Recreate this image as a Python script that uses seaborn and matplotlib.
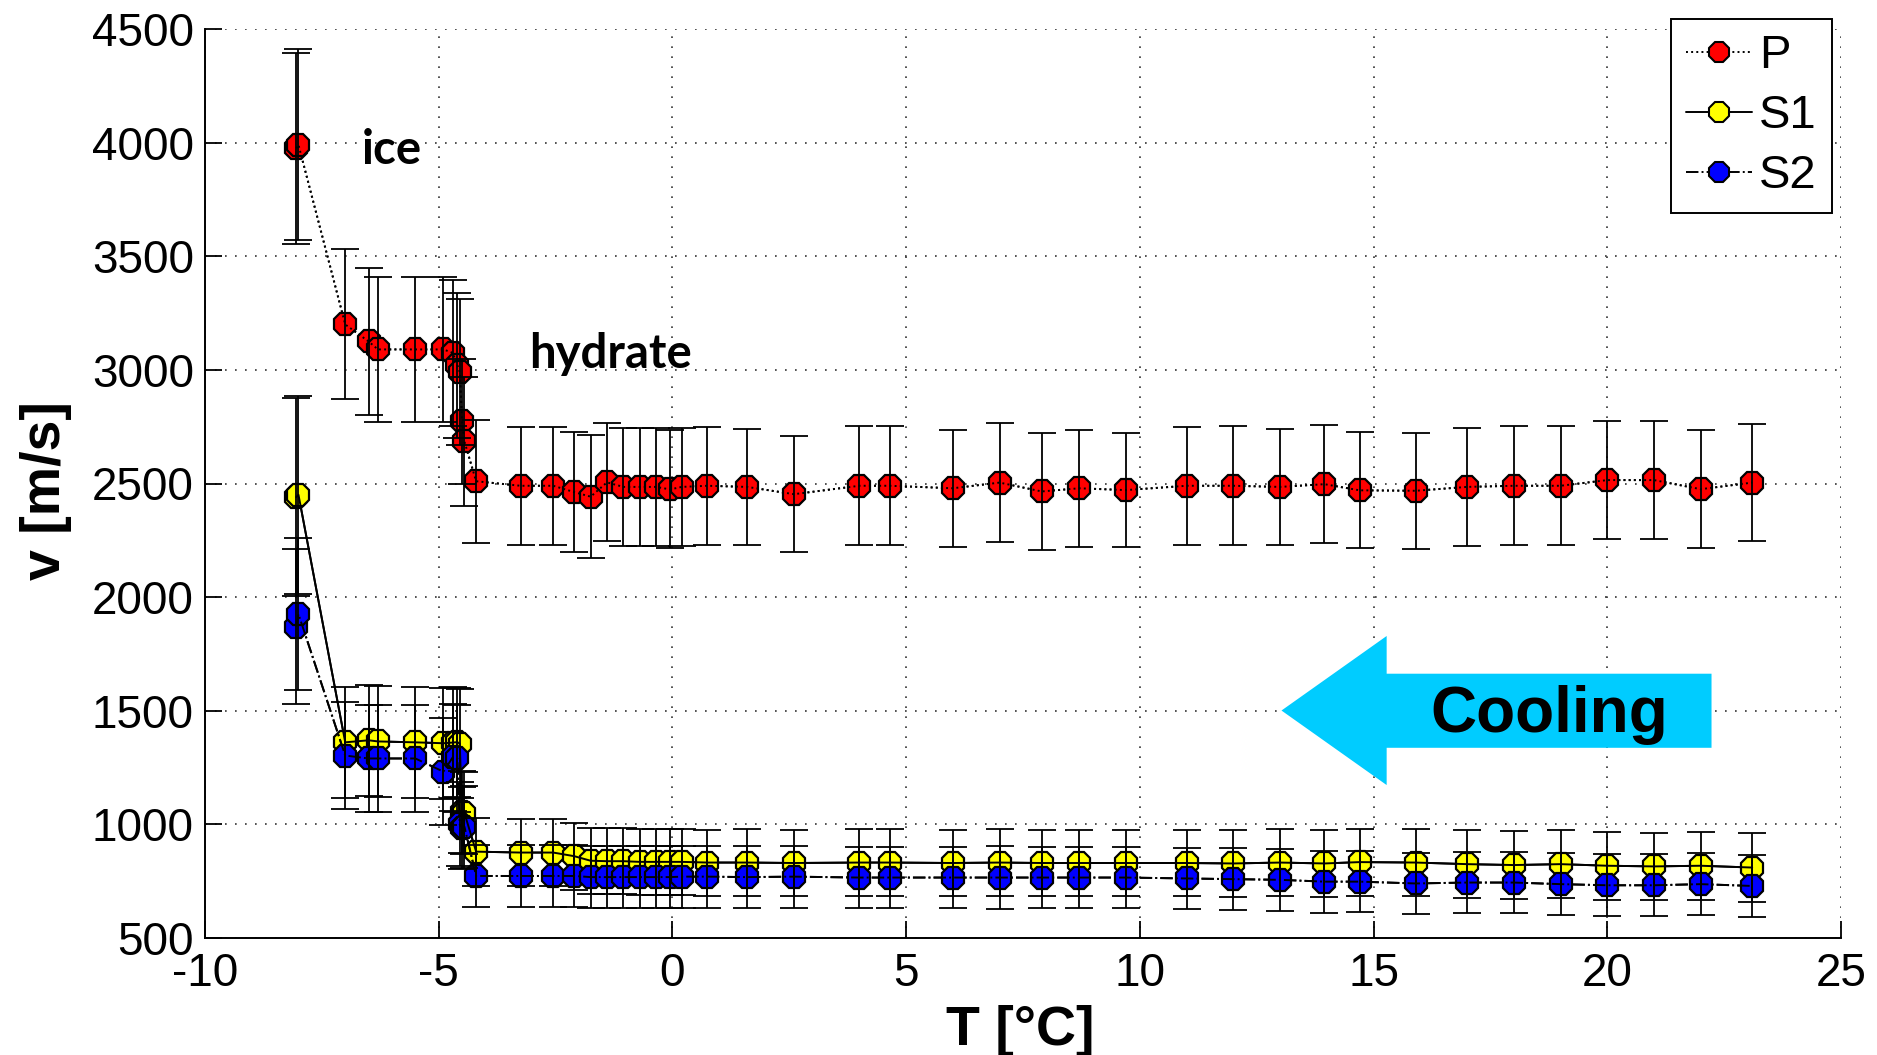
import matplotlib
matplotlib.use("Agg")
import matplotlib.pyplot as plt
from matplotlib.patches import Polygon
from matplotlib.lines import Line2D
import numpy as np
import pandas as pd
import seaborn as sns

# ---------------- data ----------------
T = [-8.05, -8.0, -7.0, -6.5, -6.3, -5.5, -4.9, -4.7, -4.6, -4.55, -4.5, -4.45, -4.2,
     -3.25, -2.55, -2.1, -1.75, -1.4, -1.05, -0.7, -0.35, -0.05, 0.2, 0.75, 1.6, 2.6,
     4.0, 4.65, 6.0, 7.0, 7.9, 8.7, 9.7, 11.0, 12.0, 13.0, 13.95, 14.7, 15.9, 17.0,
     18.0, 19.0, 20.0, 21.0, 22.0, 23.1]

P = [3975, 3990, 3200, 3125, 3090, 3090, 3090, 3075, 3020, 2990, 2775, 2685, 2510,
     2490, 2490, 2462, 2442, 2505, 2485, 2485, 2485, 2474, 2485, 2490, 2485, 2453,
     2490, 2490, 2479, 2504, 2465, 2479, 2471, 2490, 2490, 2485, 2497, 2470, 2468, 2485,
     2490, 2490, 2515, 2515, 2475, 2504]
P_err = [420, 420, 330, 325, 320, 320, 320, 320, 320, 320, 275, 285, 270,
         260, 260, 265, 270, 260, 260, 260, 260, 260, 260, 259, 257, 254,
         261, 261, 257, 261, 257, 257, 252, 259, 261, 257, 261, 256, 256, 261,
         261, 261, 259, 259, 261, 259]

S1 = [2440, 2450, 1361, 1370, 1365, 1361, 1357, 1360, 1362, 1355, 1055, 1050, 880,
      876, 876, 860, 840, 838, 838, 835, 835, 835, 835, 832, 832, 830,
      832, 832, 830, 832, 830, 830, 830, 830, 828, 832, 828, 834, 832, 825,
      821, 825, 818, 815, 818, 810]
S1_err = [435, 435, 245, 245, 245, 245, 245, 245, 240, 240, 180, 180, 150,
          148, 148, 147, 146, 146, 146, 145, 145, 145, 145, 145, 146, 145,
          146, 146, 145, 146, 147, 146, 146, 147, 148, 147, 148, 147, 148, 149,
          148, 149, 149, 148, 149, 150]

S2 = [1870, 1925, 1303, 1290, 1290, 1290, 1232, 1295, 1290, 1000, 985, 990, 773,
      773, 773, 773, 768, 768, 768, 768, 768, 768, 770, 770, 768, 770,
      766, 766, 766, 766, 766, 766, 766, 762, 759, 756, 748, 748, 740, 744,
      744, 737, 732, 732, 737, 729]
S2_err = [340, 335, 235, 235, 235, 235, 235, 235, 235, 185, 180, 180, 138,
          137, 137, 136, 136, 136, 136, 136, 136, 136, 136, 137, 136, 137,
          136, 136, 136, 137, 136, 136, 136, 135, 135, 136, 136, 135, 136, 135,
          136, 135, 136, 136, 135, 136]

SERIES = ["P", "S1", "S2"]
FACE = {"P": "#ff0000", "S1": "#ffff00", "S2": "#0000ff"}
LSTYLE = {"P": ":", "S1": "-", "S2": "-."}

XTICKS = [-10, -5, 0, 5, 10, 15, 20, 25]
YTICKS = [500, 1000, 1500, 2000, 2500, 3000, 3500, 4000, 4500]

# arrow annotation outline (data coords)
ARROW_X = [13.03, 15.28, 15.28, 22.23, 22.23, 15.28, 15.28]
ARROW_Y = [1501, 1829, 1663, 1663, 1337, 1337, 1173]

df = pd.DataFrame({"T": T * 3,
                   "v": P + S1 + S2,
                   "err": P_err + S1_err + S2_err,
                   "wave": ["P"] * len(T) + ["S1"] * len(T) + ["S2"] * len(T)})

# ---------------- style ----------------
sns.set_theme(style="white")
plt.rcParams["font.family"] = ["Liberation Sans", "DejaVu Sans"]
plt.rcParams["text.color"] = "black"

W, H = 1877, 1055
fig = plt.figure(figsize=(W / 100, H / 100), dpi=100)
ax = fig.add_axes([205 / W, 1 - 938 / H, (1841 - 205) / W, (938 - 29) / H])

for s in SERIES:
    d = df[df["wave"] == s]
    sns.lineplot(data=d, x="T", y="v", ax=ax, estimator=None, sort=False,
                 color="black", linestyle=LSTYLE[s], lw=1.4,
                 marker="8", markersize=17, markerfacecolor=FACE[s],
                 markeredgecolor="black", markeredgewidth=1.6, zorder=2.5)
    ax.errorbar(d["T"], d["v"], yerr=d["err"], fmt="none", ecolor="black",
                elinewidth=1.3, capsize=10.4, capthick=1.3, zorder=3)
    sns.lineplot(data=d, x="T", y="v", ax=ax, estimator=None, sort=False,
                 color="black", linestyle=LSTYLE[s], lw=1.4, zorder=3.1)

# cooling arrow
ax.add_patch(Polygon(np.column_stack([ARROW_X, ARROW_Y]), closed=True,
                     facecolor="#00ccff", edgecolor="none", zorder=2))
ax.text(18.76, 1405, "Cooling", ha="center", va="baseline", fontsize=46,
        fontweight="bold", color="black", zorder=4)

ax.text(-6.64, 3905, "ice", ha="left", va="baseline", fontsize=34,
        fontweight="bold", color="black", family=["Lato", "DejaVu Sans"], zorder=4)
ax.text(-3.06, 3009, "hydrate", ha="left", va="baseline", fontsize=34,
        fontweight="bold", color="black", family=["Lato", "DejaVu Sans"], zorder=4)

ax.set_xlim(-10, 25)
ax.set_ylim(500, 4500)
ax.set_xticks(XTICKS)
ax.set_yticks(YTICKS)
ax.set_xticklabels([str(t) for t in XTICKS])
ax.set_yticklabels([str(t) for t in YTICKS])
ax.grid(True, linestyle=(0, (1, 5)), color="#333333", lw=1.2)
ax.set_axisbelow(True)
ax.tick_params(axis="both", which="major", direction="in", length=12, width=1.3,
               labelsize=33, colors="black", bottom=True, left=True,
               top=False, right=False)
ax.tick_params(axis="y", pad=8)
ax.tick_params(axis="x", pad=10)
for side in ["top", "right"]:
    ax.spines[side].set_visible(False)
for side in ["left", "bottom"]:
    ax.spines[side].set_color("black")
    ax.spines[side].set_linewidth(1.4)
ax.set_xlabel("")
ax.set_ylabel("")

fig.text(1020 / W, 10 / H, "T [°C]", ha="center", va="baseline",
         fontsize=40, fontweight="bold", color="black")
fig.text(46 / W, 1 - 491 / H, "v [m/s]", ha="center", va="center",
         rotation=90, fontsize=40, fontweight="bold", color="black")

handles = [Line2D([], [], color="black", linestyle=LSTYLE[s], lw=1.4, marker="8",
                  markersize=15, markerfacecolor=FACE[s], markeredgecolor="black",
                  markeredgewidth=1.5) for s in SERIES]
leg = ax.legend(handles, SERIES, loc="upper right",
                bbox_to_anchor=(1832 / W, 1 - 19 / H), bbox_transform=fig.transFigure,
                fontsize=34, frameon=True, fancybox=False, framealpha=1,
                edgecolor="black", handlelength=1.4, handletextpad=0.15,
                borderpad=0.32, labelspacing=0.34, borderaxespad=0)
leg.get_frame().set_linewidth(1.4)
for txt in leg.get_texts():
    txt.set_color("black")
leg.set_zorder(5)

fig.savefig("out.png", dpi=100)
